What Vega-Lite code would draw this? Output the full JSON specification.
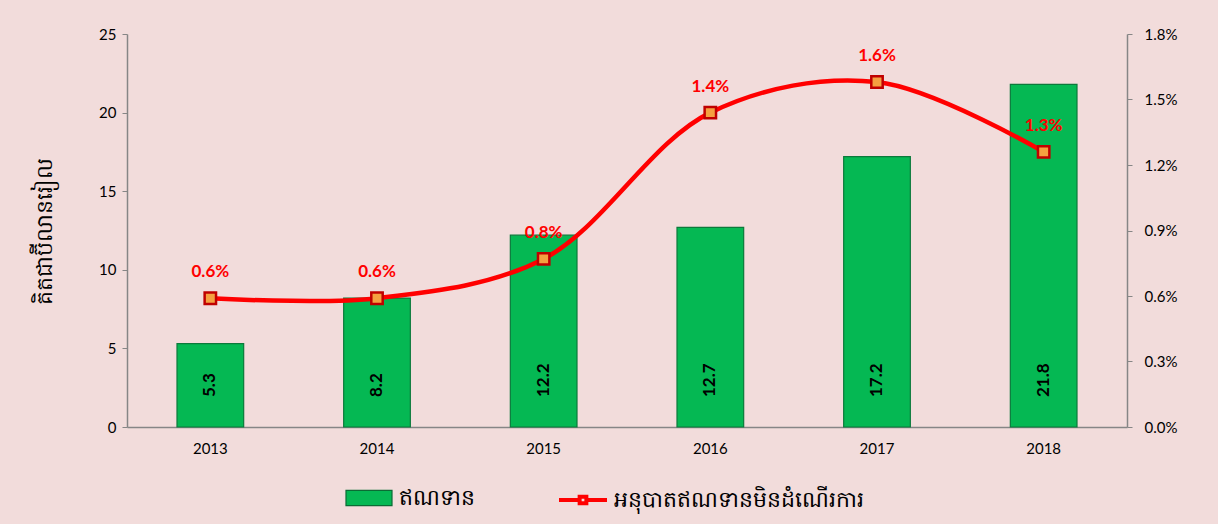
{
  "$schema": "https://vega.github.io/schema/vega-lite/v6.json",
  "width": 1000,
  "height": 393,
  "autosize": "none",
  "padding": {"left": 127, "top": 34, "right": 91, "bottom": 97},
  "background": "#f2dcdb",
  "config": {
    "view": {"stroke": null},
    "font": "Lato",
    "axis": {"grid": false, "domainColor": "#868686", "tickColor": "#868686", "labelColor": "#000000", "labelFont": "Lato", "labelFontSize": 15, "domainWidth": 1.5}
  },
  "data": {
    "values": [
      {"year": "2013", "credit": 5.3, "npl": 0.0059},
      {"year": "2014", "credit": 8.2, "npl": 0.0059},
      {"year": "2015", "credit": 12.2, "npl": 0.0077},
      {"year": "2016", "credit": 12.7, "npl": 0.0144},
      {"year": "2017", "credit": 17.2, "npl": 0.0158},
      {"year": "2018", "credit": 21.8, "npl": 0.0126}
    ]
  },
  "encoding": {
    "x": {
      "field": "year", "type": "nominal",
      "scale": {"paddingInner": 0.6, "paddingOuter": 0.3},
      "axis": {"title": null, "labelAngle": 0, "ticks": false, "labelPadding": 14}
    }
  },
  "layer": [
    {
      "layer": [
        {
          "mark": {"type": "bar", "stroke": "#0b7a3b", "strokeWidth": 1.2},
          "encoding": {
            "y": {
              "field": "credit", "type": "quantitative",
              "scale": {"domain": [0, 25]},
              "axis": {"values": [0, 5, 10, 15, 20, 25], "title": "គិតជាប៊ីលានរៀល", "titleFontSize": 22, "titleFont": "Noto Sans", "titleFontWeight": "normal", "titleColor": "#000000", "titlePadding": 42, "labelPadding": 6, "tickSize": 5}
            },
            "fill": {
              "datum": "ឥណទាន",
              "scale": {"domain": ["ឥណទាន"], "range": ["#05b853"]},
              "legend": {
                "orient": "none", "legendX": 218, "legendY": 440, "title": null,
                "labelFont": "Noto Sans", "labelFontSize": 22, "labelColor": "#000000", "labelOffset": 6, "labelLimit": 0,
                "symbolType": "M-1,-0.33H1V0.33H-1Z", "symbolSize": 2116, "symbolStrokeColor": "#0b6b34", "symbolStrokeWidth": 1.2, "symbolOpacity": 1
              }
            }
          }
        },
        {
          "mark": {"type": "text", "angle": 270, "align": "left", "baseline": "middle", "dx": 30, "fontWeight": "bold", "fontSize": 17, "font": "Lato", "color": "#000000"},
          "encoding": {
            "y": {"datum": 0, "type": "quantitative", "scale": {"domain": [0, 25]}},
            "text": {"field": "credit", "type": "quantitative", "format": ".1f"}
          }
        }
      ]
    },
    {
      "layer": [
        {
          "mark": {"type": "line", "interpolate": "catmull-rom", "strokeWidth": 4.5},
          "encoding": {
            "y": {
              "field": "npl", "type": "quantitative",
              "scale": {"domain": [0, 0.018]},
              "axis": {"orient": "right", "title": null, "format": ".1%", "values": [0, 0.003, 0.006, 0.009, 0.012, 0.015, 0.018], "tickSize": 5, "labelPadding": 12}
            },
            "stroke": {
              "datum": "អនុបាតឥណទានមិនដំណើរការ",
              "scale": {"domain": ["អនុបាតឥណទានមិនដំណើរការ"], "range": ["#ff0000"]},
              "legend": {
                "orient": "none", "legendX": 430, "legendY": 440, "title": null,
                "labelFont": "Noto Sans", "labelFontSize": 22, "labelColor": "#000000", "labelOffset": 5, "labelLimit": 0,
                "symbolType": "M-1,0H-0.2 M0.2,0H1 M-0.14,-0.14H0.14V0.14H-0.14Z", "symbolSize": 2304, "symbolStrokeWidth": 4, "symbolOpacity": 1
              }
            }
          }
        },
        {
          "mark": {"type": "point", "shape": "square", "size": 130, "filled": true, "fill": "#f5a040", "stroke": "#c00000", "strokeWidth": 2.5, "opacity": 1},
          "encoding": {
            "y": {"field": "npl", "type": "quantitative", "scale": {"domain": [0, 0.018]}}
          }
        },
        {
          "mark": {"type": "text", "dy": -26, "fontWeight": "bold", "fontSize": 17, "font": "Lato", "color": "#ff0000"},
          "encoding": {
            "y": {"field": "npl", "type": "quantitative", "scale": {"domain": [0, 0.018]}},
            "text": {"field": "npl", "type": "quantitative", "format": ".1%"}
          }
        }
      ]
    }
  ],
  "resolve": {"scale": {"y": "independent"}}
}
